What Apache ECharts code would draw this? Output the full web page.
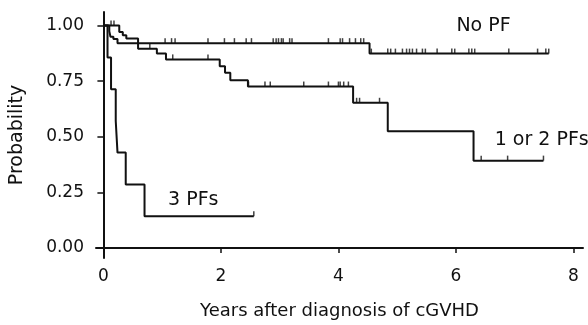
<!DOCTYPE html>
<html>
<head>
<meta charset="utf-8">
<script src="https://cdn.jsdelivr.net/npm/echarts@6/dist/echarts.min.js"></script>
<style>
  html, body { margin: 0; padding: 0; background: #fff; }
  #main { width: 588px; height: 325px; }
</style>
</head>
<body>
<div id="main"></div>
<script>
// Kaplan-Meier steps: [time (years), survival after the event]
var noPfSteps = [[0, 1], [0.10, 0.975], [0.12, 0.95], [0.17, 0.94], [0.24, 0.921], [4.53, 0.874], [7.58, 0.874]];
var oneTwoPfSteps = [[0, 1], [0.27, 0.971], [0.33, 0.957], [0.39, 0.942], [0.59, 0.896], [0.91, 0.874],
  [1.065, 0.848], [1.98, 0.817], [2.07, 0.788], [2.16, 0.754], [2.46, 0.726], [4.25, 0.653],
  [4.84, 0.525], [6.30, 0.393], [7.49, 0.393]];
var threePfSteps = [[0, 1], [0.07, 0.857], [0.13, 0.714], [0.21, 0.571], [0.24, 0.429], [0.38, 0.286], [0.70, 0.143], [2.56, 0.143]];

// censored observations (years)
var noPfCensored = [1.05, 1.16, 1.22, 1.78, 2.06, 2.23, 2.43, 2.52, 2.89, 2.94, 2.98, 3.03, 3.06, 3.17, 3.21,
  3.83, 4.03, 4.07, 4.19, 4.29, 4.38, 4.43,
  4.56, 4.84, 4.89, 4.97, 5.09, 5.16, 5.21, 5.26, 5.33, 5.43, 5.48, 5.68, 5.93, 5.98,
  6.22, 6.27, 6.32, 6.90, 7.39, 7.53, 7.58];
var oneTwoPfCensored = [0.13, 0.18, 0.79, 1.18, 1.78, 2.47, 2.75, 2.84, 3.41, 3.83, 4.0, 4.03, 4.09, 4.17,
  4.31, 4.36, 4.70, 6.43, 6.88, 7.49];
var threePfCensored = [2.56];

var xTicks = [0, 2, 4, 6, 8];
var yTicks = [0, 0.25, 0.5, 0.75, 1];

// curve labels: [text, x, y]
var curveLabels = [['No PF', 6.47, 0.996], ['1 or 2 PFs', 7.46, 0.484], ['3 PFs', 1.53, 0.215]];

var ink = '#111';
var font = 'DejaVu Sans';

function stepValue(steps, t) {
  var v = steps[0][1];
  for (var i = 0; i < steps.length; i++) {
    if (steps[i][0] <= t) v = steps[i][1];
  }
  return v;
}

function curve(steps) {
  return {
    type: 'line',
    step: 'end',
    data: steps,
    symbol: 'none',
    lineStyle: { color: ink, width: 2 },
    silent: true
  };
}

function marks(steps, times) {
  return {
    type: 'scatter',
    data: times.map(function (t) { return [t, stepValue(steps, t)]; }),
    symbol: 'rect',
    symbolSize: [1.5, 5],
    symbolOffset: [0, -2.5],
    itemStyle: { color: ink },
    silent: true
  };
}

var chart = echarts.init(document.getElementById('main'));
chart.setOption({
  animation: false,
  backgroundColor: '#fff',
  grid: { left: 89, right: 5, top: 12, bottom: 58 },
  xAxis: {
    type: 'value',
    min: -0.126,
    max: 8.163,
    name: 'Years after diagnosis of cGVHD',
    nameLocation: 'middle',
    nameGap: 44,
    nameTextStyle: { color: ink, fontFamily: font, fontSize: 18 },
    axisLine: { lineStyle: { color: ink, width: 2 } },
    axisTick: { customValues: xTicks, length: 5, lineStyle: { color: ink, width: 1.5 } },
    axisLabel: { customValues: xTicks, margin: 10, color: ink, fontFamily: font, fontSize: 17 },
    splitLine: { show: false }
  },
  yAxis: {
    type: 'value',
    min: -0.0446,
    max: 1.061,
    name: 'Probability',
    nameLocation: 'middle',
    nameGap: 69,
    nameTextStyle: { color: ink, fontFamily: font, fontSize: 19 },
    axisLine: { show: true, lineStyle: { color: ink, width: 2 } },
    axisTick: { show: true, customValues: yTicks, length: 6, lineStyle: { color: ink, width: 1.5 } },
    axisLabel: {
      customValues: yTicks, margin: 12, color: ink, fontFamily: font, fontSize: 17,
      formatter: function (v) { return v.toFixed(2); }
    },
    splitLine: { show: false }
  },
  series: [
    curve(noPfSteps),
    curve(oneTwoPfSteps),
    curve(threePfSteps),
    marks(noPfSteps, noPfCensored),
    marks(oneTwoPfSteps, oneTwoPfCensored),
    marks(threePfSteps, threePfCensored),
    {
      type: 'scatter',
      symbol: 'circle',
      symbolSize: 0.01,
      itemStyle: { color: ink, opacity: 1 },
      silent: true,
      data: curveLabels.map(function (d) { return { name: d[0], value: [d[1], d[2]] }; }),
      label: {
        show: true,
        position: 'inside',
        formatter: '{b}',
        color: ink,
        opacity: 1,
        textBorderWidth: 0,
        fontFamily: font,
        fontSize: 19
      }
    }
  ]
});
</script>
</body>
</html>
